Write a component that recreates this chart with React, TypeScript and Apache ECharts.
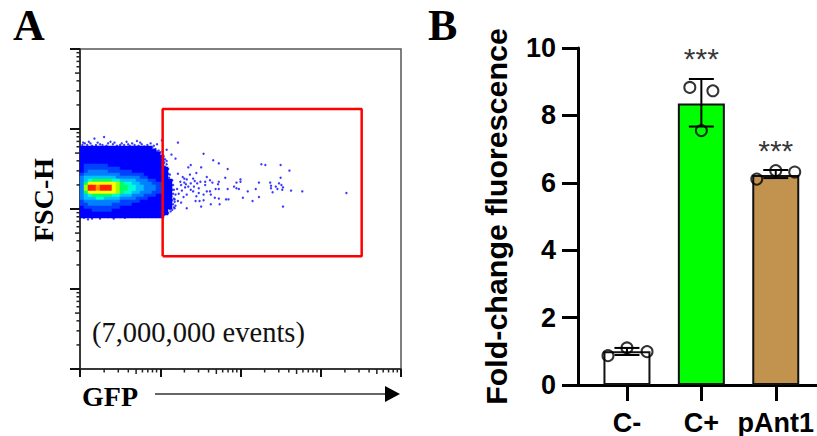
import React, { useEffect, useRef } from "react";
import * as echarts from "echarts";

// Panel A: values are log10 units on both axes (4 decades)
const minorTicksDecade = [0.301, 0.477, 0.602, 0.699, 0.778, 0.845, 0.903, 0.954];
const decades = [0, 1, 2, 3];
const gateX = [1.03, 3.51];
const gateY = [1.41, 3.25];

// density levels per pixel bin (0 empty, 1 blue ... a red), top row first
const densityRows = [
  "111111111111111111000000",
  "111111111111111111100000",
  "111111111111111111110000",
  "111111111111111111111000",
  "111111111111111111111000",
  "111111111111111111111000",
  "122222211111111111111000",
  "122222222211111111111100",
  "123333322222211111111100",
  "233333333322222211111100",
  "344444444333333221111100",
  "345666665544443332211110",
  "368888888765544333222110",
  "37aa9aaa8766554433322110",
  "37aa9aaa8766554433322110",
  "368888888765544333222110",
  "345666665544433322211110",
  "344455444433332221111110",
  "233333333322222111111110",
  "223333332222211111111110",
  "122222222211111111111110",
  "111222221111111111111100",
  "111111111111111111111100",
  "111111111111111111111000",
];
const densityColors = ["#0000ff", "#0040ff", "#0080ff", "#00c0ff", "#00ffd0", "#00ff60", "#a0ff00", "#ffff00", "#ff9000", "#ff2000"];

const outlierEvents = [
  [1.22,2.83],[1.14,2.68],[1.19,2.63],[1.54,2.69],[1.66,2.61],[1.73,2.57],[1.38,2.55],[1.51,2.52],[1.35,2.52],[1.84,2.5],
  [2.26,2.56],[2.31,2.55],[2.5,2.55],[2.61,2.48],[1.08,2.74],[1.22,2.44],[1.37,2.43],[1.45,2.45],[1.58,2.4],[1.81,2.39],
  [2.5,2.39],[2.0,2.37],[2.0,2.34],[1.95,2.33],[2.23,2.33],[2.37,2.33],[2.48,2.32],[2.38,2.29],[2.51,2.3],[2.53,2.27],
  [2.44,2.28],[2.38,2.26],[2.46,2.25],[2.4,2.21],[2.52,2.24],[2.63,2.23],[2.77,2.22],[3.32,2.2],[1.28,2.4],[1.3,2.38],
  [1.33,2.37],[1.41,2.38],[1.43,2.35],[1.5,2.34],[1.56,2.34],[1.62,2.36],[1.65,2.33],[1.73,2.34],[1.72,2.31],[1.92,2.28],
  [1.95,2.26],[1.98,2.25],[2.09,2.22],[2.19,2.25],[2.03,2.14],[2.23,2.15],[2.15,2.1],[1.84,2.25],[1.73,2.25],[1.69,2.25],
  [1.62,2.22],[1.58,2.22],[1.54,2.18],[1.48,2.2],[1.45,2.16],[1.41,2.22],[1.38,2.24],[1.35,2.28],[1.31,2.27],[1.26,2.3],
  [1.27,2.23],[1.25,2.34],[1.32,2.31],[1.21,2.25],[1.23,2.19],[1.29,2.15],[1.33,2.18],[1.42,2.28],[1.48,2.26],[1.56,2.3],
  [1.63,2.18],[1.68,2.14],[1.73,2.13],[1.82,2.12],[1.85,2.12],[1.49,2.1],[1.44,2.1],[1.54,2.11],[1.26,2.08],[1.22,2.1],
  [1.33,2.01],[1.51,2.03],[1.63,2.06],[1.74,2.06],[2.53,2.03],[1.18,2.01],[1.13,2.04],[1.38,2.32],[1.46,2.32],[1.3,2.33],
];
const fringeEvents = [
  [0.18,2.88],[0.3,2.9],[0.06,2.82],[0.13,2.82],[0.25,2.81],[0.38,2.84],[0.46,2.79],[0.58,2.84],[0.65,2.82],[0.71,2.85],
  [0.77,2.81],[0.88,2.82],[0.96,2.81],[1.02,2.86],[0.03,2.8],[0.09,2.8],[0.15,2.79],[0.2,2.8],[0.28,2.8],[0.33,2.79],
  [0.41,2.81],[0.5,2.8],[0.55,2.8],[0.62,2.79],[0.68,2.8],[0.73,2.79],[0.8,2.78],[0.9,2.77],[0.94,2.75],[0.98,2.73],
  [1.0,2.71],[0.05,1.89],[0.15,1.88],[0.35,1.9],[0.5,1.9],[0.62,1.91],[0.7,1.92],[0.8,1.92],[0.9,1.93],[1.0,1.93],
  [0.04,2.83],[0.11,2.84],[0.22,2.83],[0.35,2.82],[0.43,2.83],[0.52,2.82],[0.6,2.81],[0.75,2.83],[0.84,2.8],[0.92,2.79],
  [0.86,2.76],[0.92,2.74],[0.96,2.72],[0.99,2.69],[1.01,2.66],[0.1,1.87],[0.25,1.88],[0.42,1.88],[0.56,1.89],[0.74,1.9],
];
const rightEdgeEvents = [
  [1.03,2.72],[1.04,2.66],[1.06,2.62],[1.05,2.58],[1.08,2.56],[1.06,2.53],[1.09,2.5],[1.07,2.47],[1.1,2.44],[1.08,2.42],
  [1.11,2.39],[1.09,2.36],[1.13,2.34],[1.11,2.32],[1.14,2.29],[1.12,2.27],[1.15,2.24],[1.13,2.21],[1.16,2.19],[1.14,2.16],
  [1.17,2.13],[1.15,2.11],[1.18,2.09],[1.16,2.06],[1.19,2.04],[1.17,2.02],[1.15,1.99],[1.13,1.97],[1.1,1.95],[1.07,1.94],
  [1.05,1.93],[1.12,2.0],[1.18,2.12],[1.19,2.18],[1.17,2.24],[1.16,2.3],[1.15,2.36],[1.12,2.43],[1.1,2.5],[1.08,2.6],
];

// Panel B
const categories = ["C-", "C+", "pAnt1"];
const barMeans = [1.0, 8.35, 6.23];
const barColors = ["#ffffff", "#00ff00", "#c2924f"];
const errorLow = [0.89, 7.67, 6.14];
const errorHigh = [1.1, 9.08, 6.38];
const replicatesCMinus = [[-0.255, 0.87], [0, 1.1], [0.27, 0.99]];
const replicatesCPlus = [[0.845, 8.83], [1.155, 8.73], [1, 7.55]];
const replicatesPAnt1 = [[1.745, 6.11], [2, 6.36], [2.255, 6.32]];
const significance = [[1, 9.7], [2, 6.95]];
const yTicks = { min: 0, max: 10, interval: 2 };

export default function App() {
  const ref = useRef<HTMLDivElement>(null);
  useEffect(() => {
    document.body.style.margin = "0";
    const chart = echarts.init(ref.current!, undefined, { renderer: "svg" });
    const minorX: number[][] = [];
    const minorY: number[][] = [];
    decades.forEach((d) =>
      minorTicksDecade.forEach((m) => {
        minorX.push([d + m, m === 0.699 ? 5 : 3.5]);
        minorY.push([d + m, m === 0.699 ? 5 : 3.5]);
      })
    );
    const density: number[][] = [];
    densityRows.forEach((row, j) =>
      row.split("").forEach((c, i) => {
        const level = parseInt(c, 16);
        if (level > 0) density.push([i, j, level]);
      })
    );
    const bold = "Liberation Sans";
    const replicateSeries = (data: number[][]) => ({
      type: "scatter",
      xAxisIndex: 2,
      yAxisIndex: 2,
      data,
      symbol: "circle",
      symbolSize: 11,
      itemStyle: { color: "transparent", borderColor: "#000", borderWidth: 2 },
      z: 6,
    });
    chart.setOption({
      animation: false,
      backgroundColor: "#fff",
      grid: [
        { left: 80, top: 49, width: 321, height: 320, show: true, borderColor: "#555", borderWidth: 1.5, backgroundColor: "#fff" },
        { left: 80, top: 146, width: 96, height: 72 },
        { left: 578, top: 48, width: 239, height: 337 },
      ],
      xAxis: [
        {
          gridIndex: 0, type: "value", min: 0, max: 4, interval: 1,
          axisLine: { onZero: false, lineStyle: { color: "#222", width: 1.5 } },
          axisTick: { show: true, length: 8, lineStyle: { color: "#111", width: 2 } },
          axisLabel: { show: false }, splitLine: { show: false },
        },
        { gridIndex: 1, type: "category", show: false, data: densityRows[0].split("").map((_, i) => i) },
        {
          gridIndex: 2, type: "value", min: -0.658, max: 2.55,
          axisLine: { onZero: false, lineStyle: { color: "#000", width: 3 } },
          axisTick: { show: true, customValues: [0, 1, 2], length: 16, lineStyle: { color: "#000", width: 3 } },
          axisLabel: {
            show: true, customValues: [0, 1, 2], margin: 24,
            formatter: (v: number) => categories[Math.round(v)],
            fontFamily: bold, fontWeight: "bold", fontSize: 27, color: "#000",
          },
          splitLine: { show: false },
        },
      ],
      yAxis: [
        {
          gridIndex: 0, type: "value", min: 0, max: 4, interval: 1,
          axisLine: { onZero: false, lineStyle: { color: "#222", width: 1.5 } },
          axisTick: { show: true, length: 10, lineStyle: { color: "#111", width: 2 } },
          axisLabel: { show: false }, splitLine: { show: false },
        },
        { gridIndex: 1, type: "category", show: false, inverse: true, data: densityRows.map((_, i) => i) },
        {
          gridIndex: 2, type: "value", min: yTicks.min, max: yTicks.max, interval: yTicks.interval,
          axisLine: { onZero: false, lineStyle: { color: "#000", width: 3 } },
          axisTick: { show: true, length: 16, lineStyle: { color: "#000", width: 3 } },
          axisLabel: { show: true, margin: 22, fontFamily: bold, fontWeight: "bold", fontSize: 27, color: "#000" },
          splitLine: { show: false },
          name: "Fold-change fluorescence", nameLocation: "middle", nameGap: 67, nameRotate: 90,
          nameTextStyle: { fontFamily: bold, fontWeight: "bold", fontSize: 30.4, color: "#000" },
        },
      ],
      visualMap: {
        show: false, type: "continuous", seriesIndex: 0, min: 1, max: 10, dimension: 2,
        inRange: { color: densityColors },
      },
      series: [
        { type: "heatmap", xAxisIndex: 1, yAxisIndex: 1, data: density, z: 3, itemStyle: { borderWidth: 0 }, emphasis: { disabled: true } },
        {
          type: "scatter", xAxisIndex: 0, yAxisIndex: 0, data: outlierEvents.concat(fringeEvents, rightEdgeEvents),
          symbol: "circle", symbolSize: 2.4, itemStyle: { color: "#1a1aff", opacity: 0.85 }, z: 2,
        },
        {
          type: "line", xAxisIndex: 0, yAxisIndex: 0, showSymbol: false, symbol: "none", z: 5,
          lineStyle: { color: "#ff0000", width: 2.5 },
          data: [[gateX[0], gateY[0]], [gateX[1], gateY[0]], [gateX[1], gateY[1]], [gateX[0], gateY[1]], [gateX[0], gateY[0]]],
        },
        {
          type: "custom", xAxisIndex: 0, yAxisIndex: 0, data: minorX, z: 4,
          renderItem: (_: any, api: any) => {
            const p = api.coord([api.value(0), 0]);
            return { type: "line", shape: { x1: p[0], y1: p[1], x2: p[0], y2: p[1] + api.value(1) }, style: { stroke: "#222", lineWidth: 1.5 } };
          },
        },
        {
          type: "custom", xAxisIndex: 0, yAxisIndex: 0, data: minorY, z: 4,
          renderItem: (_: any, api: any) => {
            const p = api.coord([0, api.value(0)]);
            return { type: "line", shape: { x1: p[0], y1: p[1], x2: p[0] - api.value(1), y2: p[1] }, style: { stroke: "#222", lineWidth: 1.5 } };
          },
        },
        {
          type: "bar", xAxisIndex: 2, yAxisIndex: 2, barWidth: 47, z: 3,
          data: barMeans.map((v, i) => ({
            value: [i, v],
            itemStyle: { color: barColors[i], borderColor: "#111", borderWidth: 2 },
          })),
        },
        {
          type: "custom", xAxisIndex: 2, yAxisIndex: 2, z: 5,
          data: categories.map((_, i) => [i, errorLow[i], errorHigh[i]]),
          renderItem: (_: any, api: any) => {
            const lo = api.coord([api.value(0), api.value(1)]);
            const hi = api.coord([api.value(0), api.value(2)]);
            const style = { stroke: "#000", lineWidth: 2 };
            return {
              type: "group",
              children: [
                { type: "line", shape: { x1: lo[0], y1: lo[1], x2: hi[0], y2: hi[1] }, style },
                { type: "line", shape: { x1: lo[0] - 12.5, y1: lo[1], x2: lo[0] + 12.5, y2: lo[1] }, style },
                { type: "line", shape: { x1: hi[0] - 12.5, y1: hi[1], x2: hi[0] + 12.5, y2: hi[1] }, style },
              ],
            };
          },
        },
        replicateSeries(replicatesCMinus),
        replicateSeries(replicatesCPlus),
        replicateSeries(replicatesPAnt1),
        {
          type: "scatter", xAxisIndex: 2, yAxisIndex: 2, data: significance, symbolSize: 0, z: 6,
          label: { show: true, position: "inside", formatter: "***", fontFamily: bold, fontSize: 30, color: "#000" },
        },
      ],
      graphic: [
        { type: "text", x: 13, y: 3, style: { text: "A", font: "bold 44px 'Liberation Serif'", fill: "#000" } },
        { type: "text", x: 428, y: 3, style: { text: "B", font: "bold 44px 'Liberation Serif'", fill: "#000" } },
        { type: "text", x: 43, y: 200, rotation: Math.PI / 2, style: { text: "FSC-H", font: "bold 28px 'Liberation Serif'", fill: "#000", textAlign: "center", textVerticalAlign: "middle" } },
        { type: "text", x: 82, y: 396, style: { text: "GFP", font: "bold 28px 'Liberation Serif'", fill: "#000", textVerticalAlign: "middle" } },
        { type: "text", x: 92, y: 332, style: { text: "(7,000,000 events)", font: "28.5px 'Liberation Serif'", fill: "#111", textVerticalAlign: "middle" } },
        { type: "line", shape: { x1: 155, y1: 394, x2: 386, y2: 394 }, style: { stroke: "#333", lineWidth: 1.5 } },
        { type: "polygon", shape: { points: [[385, 386], [400, 394], [385, 402]] }, style: { fill: "#000" } },
      ],
    });
    return () => chart.dispose();
  }, []);
  return <div ref={ref} style={{ width: 817, height: 436, overflow: "hidden" }} />;
}
